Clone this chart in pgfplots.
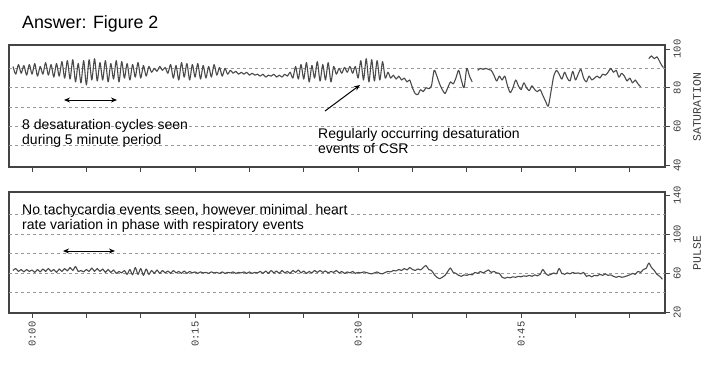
\documentclass[border=0pt]{standalone}
\usepackage{pgfplots}
\pgfplotsset{compat=1.18}
\usepackage{fontspec}
\setmainfont{Liberation Sans}
\newfontfamily\monof{Liberation Mono}
\usetikzlibrary{arrows.meta}
\definecolor{trace}{HTML}{4A4A4A}
\definecolor{framec}{HTML}{444444}
\definecolor{gridc}{HTML}{999999}
\definecolor{labc}{HTML}{3C3C3C}
\pgfplotsset{
  oxi/.style={
    scale only axis, width=656pt,
    xmin=-2.12, xmax=58.24,
    axis line style={framec, line width=1.3pt},
    tick align=outside, xtick pos=bottom, ytick pos=right, yticklabel pos=right,
    xtick={0,5,...,55}, major tick length=5pt,
    tick style={framec, line width=0.8pt},
    /pgf/number format/assume math mode=true,
    ticklabel style={font=\monof\fontsize{10.5}{12}\selectfont, text=labc},
    yticklabel style={rotate=90, anchor=north},
    xticklabel style={rotate=90, anchor=east},
    extra y tick labels={},
    extra y tick style={grid=major, major tick length=0pt,
      major grid style={gridc, dash pattern=on 3pt off 3pt, line width=0.9pt}},
    label style={font=\monof\fontsize{11.5}{13}\selectfont, text=labc},
    unbounded coords=jump,
  }
}
\begin{document}
\begin{tikzpicture}
\path[use as bounding box] (0,0) rectangle (711pt,365pt);
% ---------- saturation ----------
\begin{axis}[oxi, at={(9pt,198pt)}, anchor=south west, height=122pt,
  ymin=39, ymax=102.1, ytick={40,60,80,100},
  extra y ticks={50,60,70,80,90},
  xticklabels={},
  ylabel={SATURATION},
  ylabel style={at={(axis description cs:1.049,0.49)}, anchor=center}]
\addplot[trace, line width=1.1pt, smooth, tension=0.45, line join=round] coordinates {
(-1.75,91)(-1.5,87)(-1.25,92)(-1,87.5)(-0.75,91.5)(-0.5,86.5)(-0.25,92)(0,87)(0.25,92.5)(0.5,86)(0.75,91)(1,87)(1.25,93)(1.5,86.5)(1.75,92)(2,85.5)(2.25,92.5)(2.5,86)(2.75,93.5)(3,85)
(3.25,94)(3.5,84.5)(3.75,94.5)(4,83)(4.25,92.5)(4.5,82.5)(4.75,94)(5,81.5)(5.25,94.5)(5.5,84)(5.75,95)(6,83.5)(6.25,93)(6.5,84)(6.75,94)(7,83)(7.25,92.5)(7.5,84.5)(7.75,94)(8,83)(8.25,93.5)(8.5,85)(8.75,92.5)(9,84)(9.25,92)(9.5,85.5)(9.75,93)(10,85)(10.25,91.5)(10.5,86)
(10.75,91)(11,88)(11.25,90)(11.5,88.5)(11.75,91)(12,89)(12.25,90.5)(12.5,87.5)(12.75,92)
(13,85)(13.25,91.5)(13.5,84)(13.75,93)(14,85.5)(14.25,92.5)(14.5,84)(14.75,92)(15,85.5)(15.25,92.5)(15.5,84.5)(15.75,91.5)(16,85)(16.25,91)(16.5,85.5)(16.75,92)(17,86.5)(17.25,90.5)(17.5,86)(17.75,90)(18,87)(18.25,89)
(18.5,87.5)(18.75,88.5)(19,87)(19.25,88)(19.5,87)(19.75,88)(20,86.5)(20.25,87.5)(20.5,86.5)(20.75,87)(21,86)(21.25,87)(21.5,85.5)(21.75,86.5)(22,86)(22.25,87)(22.5,85.5)(22.75,86.5)(23,85.5)(23.25,87)(23.5,86)(23.75,88)
(24,85)(24.25,91)(24.5,84.5)(24.75,92)(25,84.5)(25.25,93)(25.5,83)(25.75,91.5)(26,85)(26.25,93.5)(26.5,83.5)(26.75,92)(27,84)(27.25,93)(27.5,83)(27.75,91)
(28,87)(28.25,90)(28.5,87.5)(28.75,90.5)(29,88)(29.25,91)(29.5,87.5)(29.75,91)
(30,85)(30.25,94)(30.5,84)(30.75,95)(31,83)(31.25,94.5)(31.5,83.5)(31.75,94)(32,84)(32.25,93.5)(32.5,85)
(32.75,88)(33,85)(33.25,86.5)(33.5,84.5)(33.75,86)(34,84)(34.25,85)(34.5,83)(34.75,84)
(35,80)(35.25,77)(35.5,76.5)(35.75,79)(36,78)(36.25,80)
(36.5,79.5)(36.75,81)(37,89)(37.25,86)(37.5,82)(37.75,79)(38,77)(38.25,80)(38.5,83)(38.75,82)(39,85)(39.25,89)(39.5,84)(39.75,80)(40,90)(40.25,86)(40.5,83)(40.75,nan)
(41,89)(41.25,90)(41.5,89.5)(41.75,90)(42,89.5)(42.25,89)(42.5,86.5)(42.75,83.5)(43,86)
(43.25,84)(43.5,86)(43.75,81)(44,77.5)(44.25,80)(44.5,84)(44.75,81)(45,79)(45.25,82.5)(45.5,80)(45.75,78.5)(46,81)(46.25,79)(46.5,78)(46.75,79)(47,76)(47.25,73)(47.5,70.5)(47.75,78)(48,86)(48.25,89)
(48.5,87)(48.75,84.5)(49,88)(49.25,85)(49.5,83.5)(49.75,88.5)(50,84)(50.25,87)(50.5,89.5)(50.75,85)(51,83)(51.25,86)(51.5,84)(51.75,85)(52,86)(52.25,85)(52.5,87)(52.75,86.5)(53,88)(53.25,90)(53.5,88)(53.75,89)(54,85.5)(54.25,87.5)(54.5,86)(54.75,83.5)(55,85)(55.25,82.5)(55.5,84)(55.75,82)(56,80.5)(56.25,nan)
(56.75,95)(57,96.5)(57.25,95)(57.5,96)(57.75,93.5)(58,91)(58.1,90.5)
};
\end{axis}
% ---------- pulse ----------
\begin{axis}[oxi, at={(9pt,52pt)}, anchor=south west, height=121pt,
  ymin=19.4, ymax=143.4, ytick={20,60,100,140},
  extra y ticks={40,60,80,100,120},
  xticklabels={0:00,,,0:15,,,0:30,,,0:45,,},
  ylabel={PULSE},
  ylabel style={at={(axis description cs:1.049,0.496)}, anchor=center}]
\addplot[trace, line width=1.1pt, smooth, tension=0.45, line join=round] coordinates {
(-1.75,63)(-1.5,65)(-1.25,62)(-1,64)(-0.75,61.5)(-0.5,64)(-0.25,62)(0,63.5)(0.25,61)(0.5,64)(0.75,61.5)(1,64.5)(1.25,62)(1.5,65)(1.75,62)(2,64)(2.25,61)(2.5,64.5)(2.75,62)(3,65)(3.25,62.5)(3.5,66)(3.75,63)(4,67)(4.25,62)(4.5,63)(4.75,61.5)(5,64)(5.25,62)(5.5,65.5)(5.75,62)(6,65)(6.25,62)(6.5,64.5)(6.75,61)(7,64)(7.25,61)(7.5,63.5)(7.75,60)(8,62)(8.25,60.5)(8.5,63)(8.75,59)
(9,64)(9.25,58.5)(9.5,66)(9.75,59)(10,65)(10.25,58)(10.5,64.5)(10.75,59)(11,63)(11.25,60)(11.5,63.5)
(11.75,60)(12,63)(12.25,60.5)(12.5,62.5)(12.75,60)(13,63)(13.25,60.5)(13.5,62)(13.75,60)(14,62.5)(14.25,60)(14.5,62)(14.75,60.5)(15,61.5)(15.25,60)(15.5,61.5)(15.75,60.5)(16,61)(16.25,60)(16.5,61.5)(16.75,60.5)(17,61)(17.25,60)(17.5,61.5)(17.75,60)(18,61)(18.25,60.5)(18.5,61.5)(18.75,60)(19,61)(19.25,60.5)(19.5,61.5)(19.75,60)(20,61.5)(20.25,60)(20.5,61)(20.75,60.5)(21,62)(21.25,60)(21.5,62.5)(21.75,60)(22,63)(22.25,60.5)(22.5,62.5)(22.75,60)(23,63)(23.25,60.5)(23.5,62)(23.75,60)(24,63)(24.25,61)(24.5,63.5)(24.75,60.5)(25,62.5)(25.25,60)(25.5,62)
(25.75,60.5)(26,63)(26.25,61)(26.5,63)(26.75,61)(27,62.5)(27.25,60.5)(27.5,62)(27.75,61)(28,63)(28.25,60.5)(28.5,62)(28.75,60)(29,61.5)(29.25,60.5)(29.5,62)(29.75,60)(30,61)(30.25,60.5)(30.5,61.5)(30.75,61)(31,60)(31.25,59.5)(31.5,60.5)(31.75,61.5)(32,60)(32.25,59.5)(32.5,61)(32.75,62)(33,61.5)(33.25,63)(33.5,62.5)(33.75,64)(34,63)(34.25,65)(34.5,63.5)(34.75,66)(35,64)
(35.25,63)(35.5,64.5)(35.75,63.5)(36,66)(36.25,68)(36.5,64)(36.75,63)(37,59)(37.25,56)(37.5,54.5)(37.75,56)(38,58)(38.25,62)(38.5,65.5)(38.75,61)(39,60)(39.25,58)(39.5,57)(39.75,58.5)(40,58)(40.25,59)(40.5,58.5)(40.75,61)(41,60)(41.25,62)(41.5,60.5)(41.75,62)(42,63.5)(42.25,61)(42.5,62)(42.75,60.5)(43,60)(43.25,56)(43.5,55)
(43.75,56)(44,55.5)(44.25,56.5)(44.5,56)(44.75,57)(45,56.5)(45.25,57.5)(45.5,57)(45.75,58)(46,57)(46.25,58.5)(46.5,57.5)(46.75,59)(47,64)(47.25,60)(47.5,58)(47.75,59)(48,60.5)(48.25,59.5)(48.5,65)(48.75,60)(49,59)(49.25,60.5)(49.5,59.5)(49.75,61)(50,60)(50.25,60.5)(50.5,59.5)(50.75,61)
(51,57)(51.25,58)(51.5,56.5)(51.75,58)(52,57.5)(52.25,59)(52.5,58)(52.75,59.5)(53,58)(53.25,58.5)(53.5,57)(53.75,56)(54,57)(54.25,56)(54.5,56.5)(54.75,57.5)(55,58.5)(55.25,60)(55.5,59)(55.75,62)(56,61)(56.25,64)(56.5,65)(56.75,70.5)(57,66)(57.25,63)(57.5,59)(57.75,57)(58,54)
};
\end{axis}
% ---------- annotations ----------
\node[anchor=base west, inner sep=0pt, font=\fontsize{17.8}{20}\selectfont] at (22pt,336pt) {Answer: Figure 2};
\begin{scope}[every node/.style={anchor=base west, inner sep=0pt, font=\fontsize{14}{16}\selectfont}]
\node at (22pt,236pt) {8 desaturation cycles seen};
\node at (22pt,221pt) {during 5 minute period};
\node at (318pt,227pt) {Regularly occurring desaturation};
\node at (318pt,212pt) {events of CSR};
\node at (22pt,150.7pt) {No tachycardia events seen, however minimal \ heart};
\node at (22pt,135.7pt) {rate variation in phase with respiratory events};
\end{scope}
\draw[{Stealth[length=6pt,width=5pt]}-{Stealth[length=6pt,width=5pt]}, line width=1pt] (64pt,265pt) -- (117pt,265pt);
\draw[{Stealth[length=6pt,width=5pt]}-{Stealth[length=6pt,width=5pt]}, line width=1pt] (63pt,114pt) -- (115pt,114pt);
\draw[-{Stealth[length=6pt,width=5pt]}, line width=1pt] (325pt,254pt) -- (360pt,280pt);
\end{tikzpicture}
\end{document}
